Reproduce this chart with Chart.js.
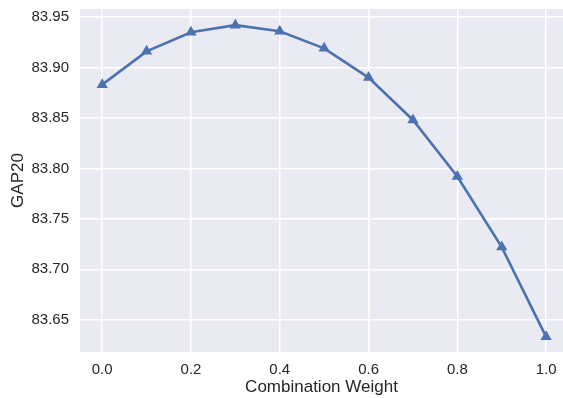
<!DOCTYPE html>
<html lang="en">
<head>
    <meta charset="UTF-8">
    <title>GAP20 vs Combination Weight</title>
    <style>
        html, body {
            margin: 0;
            padding: 0;
            background: #ffffff;
        }
        .chart-container {
            width: 563px;
            height: 398px;
            position: relative;
        }
    </style>
</head>
<body>
    <div class="chart-container">
        <canvas id="gapChart"></canvas>
    </div>

    <script src="https://cdn.jsdelivr.net/npm/chart.js"></script>
    <script>
        const weights = [0.0, 0.1, 0.2, 0.3, 0.4, 0.5, 0.6, 0.7, 0.8, 0.9, 1.0];
        const gap20 = [83.883, 83.916, 83.935, 83.942, 83.936, 83.919, 83.890, 83.848, 83.792, 83.722, 83.633];

        const textColor = '#262626';
        const fontFamily = '"Liberation Sans", Arial, sans-serif';

        // seaborn-like grey panel behind the grid
        const panelBackground = {
            id: 'panelBackground',
            beforeDraw(chart) {
                const { ctx, chartArea } = chart;
                ctx.save();
                ctx.fillStyle = '#EAEAF2';
                ctx.fillRect(chartArea.left, chartArea.top, chartArea.right - chartArea.left, chartArea.bottom - chartArea.top);
                ctx.restore();
            }
        };

        const ctx = document.getElementById('gapChart').getContext('2d');
        const gapChart = new Chart(ctx, {
            type: 'scatter',
            data: {
                datasets: [{
                    label: 'GAP20',
                    data: weights.map((w, i) => ({ x: w, y: gap20[i] })),
                    showLine: true,
                    borderColor: '#4C72B0',
                    backgroundColor: '#4C72B0',
                    borderWidth: 2.6,
                    pointStyle: 'triangle',
                    pointRadius: 6.5,
                    pointHoverRadius: 6.5,
                    pointBorderWidth: 0
                }]
            },
            options: {
                responsive: true,
                maintainAspectRatio: false,
                animation: false,
                layout: { autoPadding: false, padding: { top: 9, right: 0, bottom: 0, left: 0 } },
                plugins: {
                    legend: { display: false },
                    tooltip: { enabled: false }
                },
                scales: {
                    x: {
                        type: 'linear',
                        min: -0.05,
                        max: 1.038,
                        border: { display: false },
                        grid: { color: '#ffffff', lineWidth: 1.5, drawTicks: false },
                        afterFit(scale) {
                            scale.height = 46;
                            scale.paddingLeft = 0;
                            scale.paddingRight = 0;
                        },
                        ticks: {
                            stepSize: 0.2,
                            includeBounds: false,
                            padding: 9,
                            color: textColor,
                            font: { family: fontFamily, size: 15 },
                            callback: v => v.toFixed(1)
                        },
                        title: {
                            display: true,
                            text: 'Combination Weight',
                            color: textColor,
                            font: { family: fontFamily, size: 17 },
                            padding: { top: 4, bottom: 0 }
                        }
                    },
                    y: {
                        min: 83.618,
                        max: 83.958,
                        border: { display: false },
                        grid: { color: '#ffffff', lineWidth: 1.5, drawTicks: false },
                        afterFit(scale) {
                            scale.width = 80;
                            scale.paddingTop = 0;
                            scale.paddingBottom = 0;
                        },
                        ticks: {
                            stepSize: 0.05,
                            includeBounds: false,
                            padding: 11,
                            color: textColor,
                            font: { family: fontFamily, size: 15 },
                            callback: v => v.toFixed(2)
                        },
                        title: {
                            display: true,
                            text: 'GAP20',
                            color: textColor,
                            font: { family: fontFamily, size: 17 },
                            padding: { top: 8, bottom: 0 }
                        }
                    }
                }
            },
            plugins: [panelBackground]
        });
    </script>
</body>
</html>
